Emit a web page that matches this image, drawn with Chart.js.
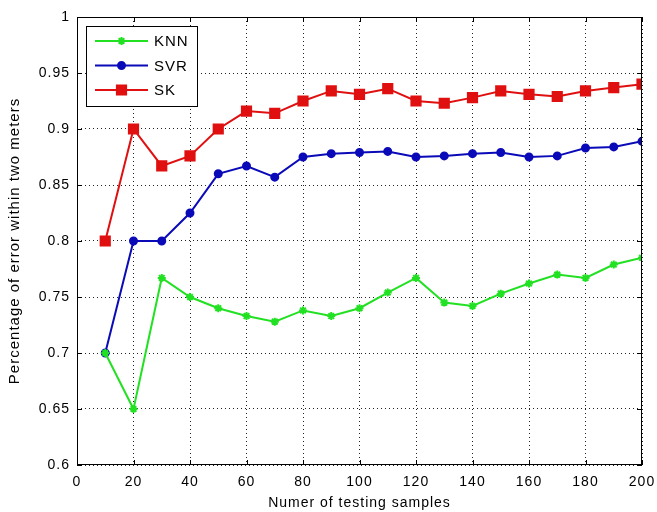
<!DOCTYPE html>
<html>
<head>
<meta charset="utf-8">
<script src="https://cdn.jsdelivr.net/npm/chart.js@4"></script>
<style>
html,body{margin:0;padding:0;background:#fff;}
#wrap{width:657px;height:512px;position:relative;}
</style>
</head>
<body>
<div id="wrap"><canvas id="c" width="657" height="512"></canvas></div>
<script>
// Data
const samples = [10,20,30,40,50,60,70,80,90,100,110,120,130,140,150,160,170,180,190,200];
const knn = [0.700,0.650,0.767,0.750,0.740,0.733,0.728,0.738,0.733,0.740,0.754,0.767,0.745,0.742,0.753,0.762,0.770,0.767,0.779,0.785];
const svr = [0.700,0.800,0.800,0.825,0.860,0.867,0.857,0.875,0.878,0.879,0.880,0.875,0.876,0.878,0.879,0.875,0.876,0.883,0.884,0.889];
const sk  = [0.800,0.900,0.867,0.876,0.900,0.916,0.914,0.925,0.934,0.931,0.936,0.925,0.923,0.928,0.934,0.931,0.929,0.934,0.937,0.940];
const seriesNames = ['KNN','SVR','SK'];
const xTickValues = [0,20,40,60,80,100,120,140,160,180,200];
const yTickValues = [0.6,0.65,0.7,0.75,0.8,0.85,0.9,0.95,1];
const xTitle = 'Numer of testing samples';
const yTitle = 'Percentage of error within two meters';

const toXY = arr => arr.map((v,i)=>({x:samples[i], y:v}));
const FONT = "'Liberation Sans', Arial, sans-serif";

const spacingPlugin = {
  id:'spacing',
  beforeUpdate(chart){ chart.ctx.letterSpacing='1px'; },
  beforeDraw(chart){ chart.ctx.letterSpacing='1px'; }
};

function marker(ctx, ds, x, y){
  ctx.save();
  ctx.fillStyle=ds.pointBackgroundColor; ctx.strokeStyle=ds.pointBorderColor; ctx.lineWidth=ds.pointBorderWidth;
  Chart.helpers.drawPoint(ctx,{pointStyle:ds.pointStyle, radius:ds.pointRadius, borderWidth:ds.pointBorderWidth, rotation:0}, x, y);
  ctx.restore();
}

const boxPlugin = {
  id:'box',
  afterDatasetsDraw(chart){
    const {ctx, chartArea:a, scales:{x,y}} = chart;
    ctx.save();
    ctx.strokeStyle='#000'; ctx.lineWidth=1; ctx.setLineDash([]);
    ctx.strokeRect(Math.round(a.left)+0.5, Math.round(a.top)+0.5, Math.round(a.right-a.left)-1, Math.round(a.bottom-a.top)-1);
    const L=5;
    ctx.beginPath();
    xTickValues.forEach(v=>{
      const px=Math.round(x.getPixelForValue(v))+0.5;
      ctx.moveTo(px,a.bottom); ctx.lineTo(px,a.bottom-L);
      ctx.moveTo(px,a.top); ctx.lineTo(px,a.top+L);
    });
    yTickValues.forEach(v=>{
      const py=Math.round(y.getPixelForValue(v))+0.5;
      ctx.moveTo(a.left,py); ctx.lineTo(a.left+L,py);
      ctx.moveTo(a.right,py); ctx.lineTo(a.right-L,py);
    });
    ctx.stroke();
    // legend
    const bx=86, by=26, bw=111, bh=80;
    ctx.fillStyle='#fff';
    ctx.fillRect(bx,by,bw,bh);
    ctx.strokeStyle='#000';
    ctx.strokeRect(bx+0.5,by+0.5,bw,bh);
    ctx.letterSpacing='1px';
    ctx.font = "15px " + FONT;
    ctx.textBaseline='middle'; ctx.textAlign='left';
    chart.data.datasets.forEach((ds,i)=>{
      const ly = 41 + i*24.5;
      ctx.strokeStyle=ds.borderColor; ctx.lineWidth=ds.borderWidth;
      ctx.beginPath(); ctx.moveTo(95,ly); ctx.lineTo(148,ly); ctx.stroke();
      marker(ctx, ds, 121.5, ly);
      ctx.fillStyle='#000';
      ctx.fillText(ds.label,154,ly+1);
    });
    ctx.restore();
  }
};

const GREEN='#22e022', BLUE='#0a0ab8', RED='#e01010';
const mk = (label, arr, color, style, r) => ({
  label, data: toXY(arr), borderColor: color, backgroundColor: color,
  pointBackgroundColor: color, pointBorderColor: color,
  borderWidth: 2, pointStyle: style, pointRadius: r, pointBorderWidth: 2,
  tension: 0, fill:false
});

new Chart(document.getElementById('c'), {
  type:'line',
  data:{ datasets:[
    mk(seriesNames[0], knn, GREEN, 'star', 4),
    mk(seriesNames[1], svr, BLUE, 'circle', 3.5),
    mk(seriesNames[2], sk, RED, 'rect', 6.5)
  ]},
  options:{
    responsive:false, animation:false, devicePixelRatio:1,
    layout:{padding:{top:17,right:15,left:0,bottom:0}},
    plugins:{legend:{display:false}, tooltip:{enabled:false}},
    scales:{
      x:{type:'linear', min:0, max:200,
        afterFit(s){ s.height=47; s.paddingRight=0; s.paddingLeft=0; },
        afterBuildTicks(s){ s.ticks = xTickValues.map(v=>({value:v})); },
        ticks:{padding:9, color:'#000', font:{family:FONT,size:14}, maxRotation:0, autoSkip:false},
        grid:{drawTicks:false, color:'#222', lineWidth:1},
        border:{display:false, dash:[1,3]},
        title:{display:true, text:xTitle, color:'#000', font:{family:FONT,size:14}, padding:{top:2,bottom:0}}
      },
      y:{type:'linear', min:0.6, max:1,
        afterFit(s){ s.width=77; s.paddingTop=0; s.paddingBottom=0; },
        afterBuildTicks(s){ s.ticks = yTickValues.map(v=>({value:v})); },
        ticks:{padding:7, color:'#000', font:{family:FONT,size:14},
          callback:v=>String(Number(v.toFixed(2)))},
        grid:{drawTicks:false, color:'#222', lineWidth:1},
        border:{display:false, dash:[1,3]},
        title:{display:true, text:yTitle, color:'#000', font:{family:FONT,size:15}, padding:{top:6,bottom:0}}
      }
    }
  },
  plugins:[spacingPlugin, boxPlugin]
});
</script>
</body>
</html>
